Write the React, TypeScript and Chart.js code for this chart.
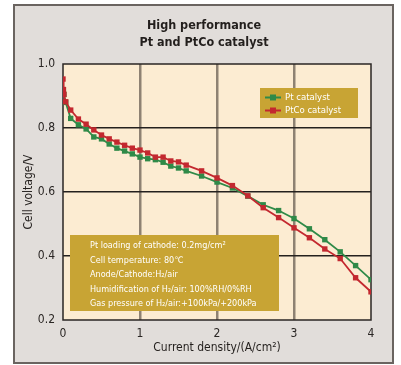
import React, { useEffect, useRef } from "react";
import { Chart, registerables } from "chart.js";

Chart.register(...registerables);

const TITLE_LINES = ["High performance", "Pt and PtCo catalyst"];
const X_TITLE = "Current density/(A/cm²)";
const Y_TITLE = "Cell voltage/V";
const SERIES_NAMES = ["Pt catalyst", "PtCo catalyst"];
const SERIES_COLORS = ["#2f8a48", "#c3282f"];

const PT_X = [0.005, 0.012, 0.035, 0.1, 0.2, 0.3, 0.4, 0.5, 0.6, 0.7, 0.8, 0.9, 1.0, 1.1, 1.2, 1.3, 1.4, 1.5, 1.6, 1.8, 2.0, 2.2, 2.4, 2.6, 2.8, 3.0, 3.2, 3.4, 3.6, 3.8, 4.0];
const PT_Y = [0.92, 0.905, 0.88, 0.83, 0.81, 0.797, 0.772, 0.766, 0.75, 0.737, 0.728, 0.719, 0.709, 0.704, 0.701, 0.693, 0.681, 0.675, 0.666, 0.65, 0.631, 0.6125, 0.587, 0.56, 0.542, 0.517, 0.485, 0.451, 0.413, 0.37, 0.326];

const PTCO_X = [0, 0.005, 0.012, 0.035, 0.1, 0.2, 0.3, 0.4, 0.5, 0.6, 0.7, 0.8, 0.9, 1.0, 1.1, 1.2, 1.3, 1.4, 1.5, 1.6, 1.8, 2.0, 2.2, 2.4, 2.6, 2.8, 3.0, 3.2, 3.4, 3.6, 3.8, 4.0];
const PTCO_Y = [0.953, 0.92, 0.905, 0.882, 0.856, 0.828, 0.812, 0.794, 0.778, 0.766, 0.756, 0.746, 0.737, 0.731, 0.722, 0.709, 0.709, 0.697, 0.694, 0.684, 0.666, 0.644, 0.62, 0.588, 0.551, 0.52, 0.488, 0.457, 0.422, 0.392, 0.332, 0.288];

const X_TICKS = [0, 1, 2, 3, 4];
const Y_TICKS = [0.2, 0.4, 0.6, 0.8, 1.0];

const NOTES = [
  "Pt loading of cathode: 0.2mg/cm²",
  "Cell temperature: 80℃",
  "Anode/Cathode:H₂/air",
  "Humidification of H₂/air: 100%RH/0%RH",
  "Gas pressure of H₂/air:+100kPa/+200kPa",
];

const FONT = "'DejaVu Sans Condensed', 'Liberation Sans', sans-serif";
const GOLD = "#c8a434";

const panelPlugin = {
  id: "panel",
  beforeDraw(chart: any) {
    const { ctx, chartArea: a } = chart;
    ctx.save();
    ctx.fillStyle = "#ffffff";
    ctx.fillRect(0, 0, chart.width, chart.height);
    ctx.fillStyle = "#e1ddda";
    ctx.fillRect(14, 5, 379, 358);
    ctx.strokeStyle = "#6a6460";
    ctx.lineWidth = 2;
    ctx.strokeRect(14, 5, 379, 358);
    ctx.fillStyle = "#fcecd2";
    ctx.fillRect(a.left, a.top, a.right - a.left, a.bottom - a.top);
    ctx.restore();
  },
  beforeDatasetsDraw(chart: any) {
    const { ctx, chartArea: a } = chart;
    ctx.save();
    ctx.strokeStyle = "#2a2624";
    ctx.lineWidth = 1.5;
    ctx.strokeRect(a.left, a.top, a.right - a.left, a.bottom - a.top);
    ctx.restore();
  },
  afterDatasetsDraw(chart: any) {
    const { ctx } = chart;
    ctx.save();
    // legend
    ctx.fillStyle = GOLD;
    ctx.fillRect(260, 88, 98, 30);
    const rows = [97.5, 110.5];
    SERIES_NAMES.forEach((name, i) => {
      const y = rows[i];
      ctx.strokeStyle = SERIES_COLORS[i];
      ctx.lineWidth = 2;
      ctx.beginPath();
      ctx.moveTo(265, y);
      ctx.lineTo(281, y);
      ctx.stroke();
      ctx.fillStyle = SERIES_COLORS[i];
      ctx.fillRect(270, y - 3, 6, 6);
      ctx.fillStyle = "#ffffff";
      ctx.font = `9.5px ${FONT}`;
      ctx.textBaseline = "middle";
      ctx.textAlign = "left";
      ctx.fillText(name, 285, y);
    });
    // notes box
    ctx.fillStyle = GOLD;
    ctx.fillRect(70, 235, 209, 76);
    ctx.fillStyle = "#ffffff";
    ctx.font = `9px ${FONT}`;
    NOTES.forEach((t, i) => {
      ctx.fillText(t, 90, 246 + i * 14.5);
    });
    ctx.restore();
  },
  afterDraw(chart: any) {
    const { ctx } = chart;
    ctx.save();
    ctx.fillStyle = "#231f1d";
    ctx.font = `bold 12.5px ${FONT}`;
    ctx.textAlign = "center";
    ctx.textBaseline = "middle";
    TITLE_LINES.forEach((t, i) => ctx.fillText(t, 204, 26 + i * 17));
    ctx.restore();
  },
};

export default function App() {
  const ref = useRef<HTMLCanvasElement | null>(null);
  useEffect(() => {
    if (!ref.current) return;
    const mk = (xs: number[], ys: number[]) => xs.map((x, i) => ({ x, y: ys[i] }));
    const chart = new Chart(ref.current, {
      type: "line",
      data: {
        datasets: [
          {
            label: SERIES_NAMES[0],
            data: mk(PT_X, PT_Y),
            borderColor: SERIES_COLORS[0],
            backgroundColor: SERIES_COLORS[0],
            borderWidth: 1.8,
            pointStyle: "rect",
            pointRadius: 3.8,
            pointBorderWidth: 0,
            tension: 0,
            order: 1,
          },
          {
            label: SERIES_NAMES[1],
            data: mk(PTCO_X, PTCO_Y),
            borderColor: SERIES_COLORS[1],
            backgroundColor: SERIES_COLORS[1],
            borderWidth: 1.8,
            pointStyle: "rect",
            pointRadius: 3.8,
            pointBorderWidth: 0,
            tension: 0,
            order: 0,
          },
        ],
      },
      options: {
        animation: false,
        responsive: false,
        layout: { padding: { left: 18, top: 64, right: 30, bottom: 6 } },
        plugins: {
          legend: { display: false },
          tooltip: { enabled: false },
          title: { display: false },
        },
        scales: {
          x: {
            type: "linear",
            min: 0,
            max: 4,
            afterBuildTicks: (s: any) => {
              s.ticks = X_TICKS.map((v) => ({ value: v }));
            },
            afterFit: (s: any) => {
              s.height = 39;
            },
            ticks: {
              color: "#2a2624",
              font: { family: FONT, size: 12 },
              padding: 7,
              callback: (v: any) => String(v),
            },
            grid: {
              drawTicks: false,
              color: (c: any) => (c.tick && c.tick.value > 0 && c.tick.value < 4 ? "#8e8273" : "rgba(0,0,0,0)"),
              lineWidth: 2.5,
            },
            border: { display: false },
            title: {
              display: true,
              text: X_TITLE,
              color: "#231f1d",
              font: { family: FONT, size: 12 },
              padding: { top: 2, bottom: 4 },
            },
          },
          y: {
            type: "linear",
            min: 0.2,
            max: 1.0,
            afterBuildTicks: (s: any) => {
              s.ticks = Y_TICKS.map((v) => ({ value: v }));
            },
            afterFit: (s: any) => {
              s.width = 45;
            },
            ticks: {
              color: "#2a2624",
              font: { family: FONT, size: 12 },
              padding: 8,
              callback: (v: any) => Number(v).toFixed(1),
            },
            grid: {
              drawTicks: false,
              color: (c: any) => (c.tick && c.tick.value > 0.21 && c.tick.value < 0.99 ? "#24201e" : "rgba(0,0,0,0)"),
              lineWidth: 1.5,
            },
            border: { display: false },
            title: {
              display: true,
              text: Y_TITLE,
              color: "#231f1d",
              font: { family: FONT, size: 12 },
              padding: { top: 4, bottom: 4 },
            },
          },
        },
      },
      plugins: [panelPlugin],
    });
    return () => chart.destroy();
  }, []);
  return (
    <div style={{ position: "absolute", left: 0, top: 0, width: 401, height: 365 }}>
      <canvas ref={ref} width={401} height={365} style={{ display: "block", width: 401, height: 365 }} />
    </div>
  );
}
